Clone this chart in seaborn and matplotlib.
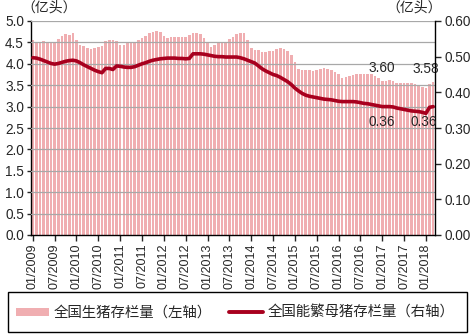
import numpy as np
import pandas as pd
import matplotlib
matplotlib.use("Agg")
import matplotlib.pyplot as plt
from matplotlib.patches import Patch, Rectangle
from matplotlib.lines import Line2D
import seaborn as sns

# Monthly series, 01/2009 - 03/2018
months = pd.date_range("2009-01-01", "2018-03-01", freq="MS").strftime("%m/%Y").tolist()

# 全国生猪存栏量 (亿头)
hog_stock = [
    4.55, 4.49, 4.52, 4.54, 4.52, 4.51, 4.50, 4.57, 4.65, 4.70, 4.67, 4.71,
    4.55, 4.45, 4.42, 4.37, 4.34, 4.36, 4.40, 4.41, 4.54, 4.55, 4.55, 4.53,
    4.45, 4.45, 4.48, 4.50, 4.52, 4.55, 4.61, 4.66, 4.73, 4.75, 4.77, 4.74,
    4.65, 4.61, 4.63, 4.63, 4.63, 4.62, 4.63, 4.68, 4.73, 4.73, 4.69, 4.61,
    4.50, 4.40, 4.45, 4.48, 4.49, 4.52, 4.57, 4.63, 4.69, 4.71, 4.72, 4.55,
    4.37, 4.33, 4.32, 4.28, 4.28, 4.29, 4.30, 4.34, 4.36, 4.34, 4.30, 4.20,
    4.04, 3.87, 3.86, 3.86, 3.86, 3.84, 3.86, 3.88, 3.90, 3.88, 3.86, 3.80,
    3.75, 3.67, 3.70, 3.71, 3.74, 3.75, 3.75, 3.75, 3.76, 3.76, 3.72, 3.67,
    3.60, 3.60, 3.62, 3.60, 3.56, 3.56, 3.56, 3.56, 3.54, 3.52, 3.51, 3.46,
    3.43, 3.52, 3.58,
]

# 全国能繁母猪存栏量 (亿头)
sow_stock = [
    0.497, 0.496, 0.493, 0.489, 0.485, 0.481, 0.479, 0.481, 0.484, 0.487, 0.489, 0.490,
    0.488, 0.483, 0.477, 0.472, 0.467, 0.462, 0.458, 0.455, 0.467, 0.467, 0.464, 0.474,
    0.473, 0.471, 0.470, 0.470, 0.472, 0.476, 0.480, 0.483, 0.487, 0.490, 0.492, 0.494,
    0.495, 0.496, 0.496, 0.496, 0.495, 0.495, 0.494, 0.495, 0.508, 0.508, 0.508, 0.507,
    0.505, 0.503, 0.501, 0.500, 0.500, 0.499, 0.499, 0.499, 0.499, 0.497, 0.494, 0.490,
    0.486, 0.482, 0.474, 0.466, 0.460, 0.455, 0.450, 0.447, 0.442, 0.436, 0.430, 0.422,
    0.412, 0.404, 0.397, 0.392, 0.389, 0.387, 0.385, 0.383, 0.381, 0.380, 0.379, 0.377,
    0.375, 0.374, 0.374, 0.374, 0.374, 0.373, 0.371, 0.369, 0.368, 0.366, 0.364, 0.362,
    0.360, 0.360, 0.360, 0.359, 0.356, 0.354, 0.352, 0.350, 0.348, 0.347, 0.346, 0.344,
    0.341, 0.358, 0.360,
]

left_ticks = [0.0, 0.5, 1.0, 1.5, 2.0, 2.5, 3.0, 3.5, 4.0, 4.5, 5.0]
right_ticks = [0.0, 0.1, 0.2, 0.3, 0.4, 0.5, 0.6]
hog_label = "全国生猪存栏量（左轴）"
sow_label = "全国能繁母猪存栏量（右轴）"
unit = "（亿头）"

bar_color = "#F0AEB1"
line_color = "#A8001E"
grid_color = "#A8A8A8"

sns.set_style("white")
plt.rcParams["font.family"] = ["Liberation Sans", "Noto Sans CJK SC", "DejaVu Sans"]
cjk = ["Noto Sans CJK SC", "DejaVu Sans"]

df = pd.DataFrame({"month": months, "hog": hog_stock, "sow": sow_stock})
df["pos"] = np.arange(len(df))

W, H = 472, 334
fig = plt.figure(figsize=(W / 100, H / 100), dpi=100)
ax = fig.add_axes([31 / W, (H - 235) / H, (435 - 31) / W, (235 - 21) / H])

sns.barplot(data=df, x="month", y="hog", color=bar_color, saturation=1,
            width=0.72, linewidth=0, ax=ax, zorder=1)
ax.set_ylim(0, 5.0)
ax.set_xlim(-0.5, len(df) - 0.5)
ax.set_yticks(left_ticks)
ax.set_yticklabels([f"{t:.1f}" for t in left_ticks])
ax.set_xticks(df["pos"][::6])
ax.set_xticklabels(df["month"][::6], rotation=90)
ax.set_xlabel("")
ax.set_ylabel("")
for t in left_ticks[1:]:
    ax.axhline(t, color=grid_color, lw=0.9, zorder=3)

ax2 = ax.twinx()
sns.lineplot(data=df, x="pos", y="sow", color=line_color, lw=2.6, ax=ax2)
ax2.set_ylim(0, 0.6)
ax2.set_yticks(right_ticks)
ax2.set_yticklabels([f"{t:.2f}" for t in right_ticks])
ax2.set_ylabel("")
ax2.set_xlim(-0.5, len(df) - 0.5)

for a in (ax, ax2):
    a.spines["top"].set_visible(False)
    for s in ("left", "right", "bottom"):
        a.spines[s].set_color("black")
        a.spines[s].set_linewidth(1.0)
ax.spines["right"].set_visible(False)
ax2.spines["left"].set_visible(False)
ax2.spines["bottom"].set_visible(False)

ax.tick_params(axis="y", direction="out", length=3, width=1, labelsize=9.8, pad=2)
ax.tick_params(axis="x", direction="out", length=4, width=1, labelsize=9, pad=2,
               bottom=True)
ax2.tick_params(axis="y", direction="out", length=4, width=1, labelsize=9.8, pad=3,
                right=True)

# value annotations
i_a = months.index("01/2017")
i_b = len(months) - 1
ax.annotate(f"{hog_stock[i_a]:.2f}", (i_a, hog_stock[i_a]), xytext=(0, 4),
            textcoords="offset points", ha="center", va="bottom", fontsize=9.8, zorder=5)
ax.annotate(f"{hog_stock[i_b]:.2f}", (i_b, hog_stock[i_b]), xytext=(-5, 4),
            textcoords="offset points", ha="center", va="bottom", fontsize=9.8, zorder=5)
ax2.annotate(f"{sow_stock[i_a]:.2f}", (i_a, sow_stock[i_a]), xytext=(0, -6),
             textcoords="offset points", ha="center", va="top", fontsize=9.8)
ax2.annotate(f"{sow_stock[i_b]:.2f}", (i_b, sow_stock[i_b]), xytext=(-7, -6),
             textcoords="offset points", ha="center", va="top", fontsize=9.8)

# unit captions
fig.text(49 / W, 1 - 8 / H, unit, ha="center", va="center", fontsize=10, family=cjk)
fig.text(414 / W, 1 - 8 / H, unit, ha="center", va="center", fontsize=10, family=cjk)

# legend box
fig.patches.append(Rectangle((8 / W, 2 / H), 459 / W, 40 / H, transform=fig.transFigure,
                             fill=False, edgecolor="black", lw=1.0))
handles = [Patch(facecolor=bar_color, edgecolor="none"),
           Line2D([], [], color=line_color, lw=2.8)]
fig.legend(handles, [hog_label, sow_label], loc="center",
           bbox_to_anchor=(235 / W, 1 - 313 / H), ncol=2, frameon=False,
           prop={"family": cjk, "size": 10.4}, handlelength=2.3, handleheight=0.55,
           handletextpad=0.35, columnspacing=1.2, borderpad=0)

fig.savefig("out.png", dpi=100)
